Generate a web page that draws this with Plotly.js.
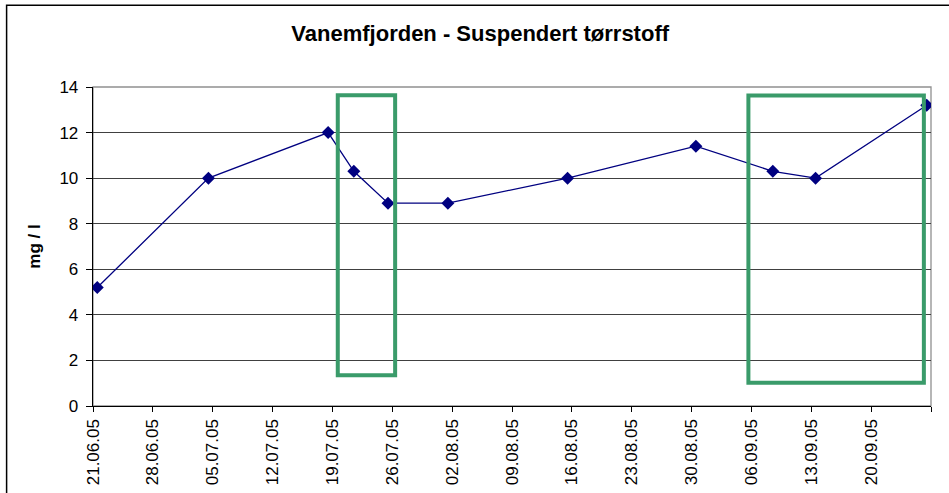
<!DOCTYPE html>
<html>
<head>
<meta charset="utf-8">
<script src="https://cdn.plot.ly/plotly-3.0.1.min.js"></script>
<style>
html,body{margin:0;padding:0;background:#fff;}
#chart{width:949px;height:493px;}
</style>
</head>
<body>
<div id="chart"></div>
<script>
// Sampling dates and values (mg / l)
var dates = ['2005-06-21','2005-07-04','2005-07-18','2005-07-21','2005-07-25','2005-08-01','2005-08-15','2005-08-30','2005-09-08','2005-09-13','2005-09-26'];
var values = [5.2, 10.0, 12.0, 10.3, 8.9, 8.9, 10.0, 11.4, 10.3, 10.0, 13.2];

// X tick dates and labels
var tickDates = ['2005-06-21','2005-06-28','2005-07-05','2005-07-12','2005-07-19','2005-07-26','2005-08-02','2005-08-09','2005-08-16','2005-08-23','2005-08-30','2005-09-06','2005-09-13','2005-09-20','2005-09-27'];
var tickLabels = ['21.06.05','28.06.05','05.07.05','12.07.05','19.07.05','26.07.05','02.08.05','09.08.05','16.08.05','23.08.05','30.08.05','06.09.05','13.09.05','20.09.05',''];
var yTicks = [0, 2, 4, 6, 8, 10, 12, 14];

var titleText = 'Vanemfjorden - Suspendert tørrstoff';
var yTitle = 'mg / l';

// Excel centres each date in its day cell
var xs = dates.map(function(d){ return d + ' 12:00'; });

var trace = {
  x: xs, y: values, type: 'scatter', mode: 'lines+markers',
  line: {color: '#000080', width: 1.3},
  marker: {symbol: 'diamond', size: 10, color: '#000080'},
  hoverinfo: 'x+y'
};

var green = '#3a9b6a';
var layout = {
  width: 949, height: 493,
  margin: {l: 93, r: 18, t: 87, b: 87, pad: 0},
  paper_bgcolor: '#ffffff', plot_bgcolor: '#ffffff',
  showlegend: false,
  font: {family: 'Liberation Sans, Arial, sans-serif', color: '#000', size: 17},
  title: {text: '<b>' + titleText + '</b>', x: 0.506, xanchor: 'center', y: 0.932, yanchor: 'middle',
          font: {size: 22, family: 'Liberation Sans, Arial, sans-serif', color: '#000'}},
  xaxis: {
    type: 'date', range: ['2005-06-21', '2005-09-27'],
    tickmode: 'array', tickvals: tickDates, ticktext: tickLabels,
    tickangle: -90, ticks: 'outside', ticklen: 5, tickcolor: '#000', tickwidth: 1,
    showline: true, linecolor: '#000', linewidth: 1.3,
    showgrid: false, zeroline: false,
    tickfont: {size: 17}, fixedrange: true
  },
  yaxis: {
    range: [0, 14], tickmode: 'array', tickvals: yTicks,
    ticks: 'outside', ticklen: 6, tickcolor: '#000', tickwidth: 1,
    showline: true, linecolor: '#000', linewidth: 1.3,
    showgrid: true, gridcolor: '#404040', gridwidth: 1, zeroline: false,
    tickfont: {size: 17}, ticklabelstandoff: 4,
    title: {text: '<b>' + yTitle + '</b>', font: {size: 17}, standoff: 14},
    fixedrange: true
  },
  shapes: [
    // plot-area border (grey, Excel style)
    {type: 'rect', xref: 'paper', yref: 'paper', x0: 0, x1: 1, y0: 0, y1: 1,
     line: {color: '#909090', width: 1.3}, layer: 'below'},
    // outer chart frame
    {type: 'rect', xref: 'paper', yref: 'paper', x0: -0.1031, x1: 1.2, y0: -0.6, y1: 1.2559,
     line: {color: '#000', width: 1.5}, layer: 'below'},
    // highlight boxes
    {type: 'rect', xref: 'x', yref: 'y', x0: '2005-07-19 15:00', x1: '2005-07-26 08:00', y0: 1.35, y1: 13.64,
     line: {color: green, width: 4}, layer: 'above'},
    {type: 'rect', xref: 'x', yref: 'y', x0: '2005-09-05 15:30', x1: '2005-09-26 04:00', y0: 1.02, y1: 13.63,
     line: {color: green, width: 4}, layer: 'above'}
  ]
};

Plotly.newPlot('chart', [trace], layout, {displayModeBar: false, staticPlot: true});
</script>
</body>
</html>
